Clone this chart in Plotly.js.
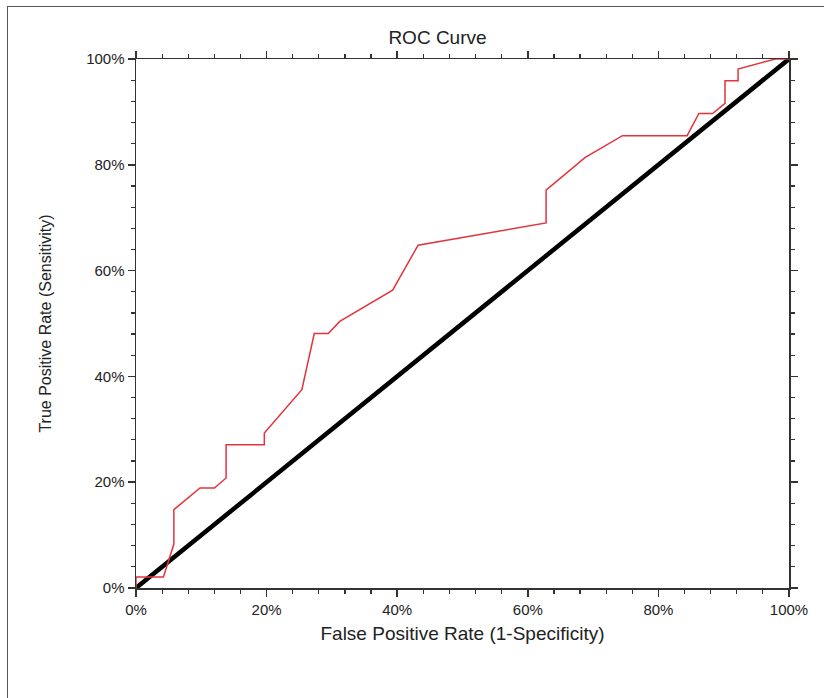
<!DOCTYPE html>
<html>
<head>
<meta charset="utf-8">
<script src="https://cdn.plot.ly/plotly-3.0.1.min.js"></script>
<style>
html,body{margin:0;padding:0;background:#fff;}
#wrap{position:relative;width:824px;height:698px;}
#chart{width:824px;height:698px;}
#frame{position:absolute;left:7px;top:6px;width:830px;height:700px;border-left:1.5px solid #555;border-top:1.5px solid #555;pointer-events:none;}
</style>
</head>
<body>
<div id="wrap"><div id="chart"></div><div id="frame"></div></div>
<script>
// False positive rate (%) and true positive rate (%) of the ROC curve
const fpr = [0, 0, 4.2, 5.8, 5.8, 9.8, 12.0, 13.8, 13.8, 19.65, 19.65, 25.4, 27.3, 29.45, 31.2, 39.3, 43.2, 62.8, 62.8, 68.8, 74.5, 84.4, 86.2, 88.3, 90.2, 90.2, 92.2, 92.2, 97.9, 100];
const tpr = [0, 2.1, 2.1, 8.3, 14.8, 18.9, 18.9, 20.8, 27.1, 27.1, 29.3, 37.5, 48.1, 48.1, 50.4, 56.3, 64.8, 69.0, 75.2, 81.4, 85.5, 85.5, 89.7, 89.7, 91.6, 95.9, 95.9, 98.1, 100, 100];
// Reference (chance) line
const refX = [0, 100];
const refY = [0, 100];
// Axis ticks
const tickVals = [0, 20, 40, 60, 80, 100];
const tickText = ['0%', '20%', '40%', '60%', '80%', '100%'];

const font = 'Liberation Sans, Arial, sans-serif';

const traces = [
  {x: refX, y: refY, mode: 'lines', line: {color: '#000', width: 4.5}, hoverinfo: 'skip', showlegend: false},
  {x: fpr, y: tpr, mode: 'lines', line: {color: '#e3343c', width: 1.5}, showlegend: false}
];

const axisCommon = {
  range: [0, 100],
  tickvals: tickVals,
  ticktext: tickText,
  ticks: 'outside',
  ticklen: 7,
  tickwidth: 1.5,
  tickcolor: '#333',
  showline: true,
  linecolor: '#333',
  linewidth: 1.5,
  mirror: 'allticks',
  showgrid: false,
  zeroline: false,
  tickfont: {family: font, size: 15, color: '#222'},
  minor: {dtick: 4, tick0: 0, ticks: 'outside', ticklen: 4, tickwidth: 1.2, tickcolor: '#333', showgrid: false}
};

const layout = {
  width: 824, height: 698,
  margin: {l: 136, r: 35, t: 59, b: 110},
  paper_bgcolor: '#fff', plot_bgcolor: '#fff',
  title: {text: 'ROC Curve', font: {family: font, size: 19, color: '#222'}, x: 0.4617, xref: 'paper', xanchor: 'center', y: 1 - 37/698, yref: 'container', yanchor: 'middle'},
  xaxis: Object.assign({}, axisCommon, {
    title: {text: 'False Positive Rate (1-Specificity)', font: {family: font, size: 19, color: '#222'}, standoff: 10}
  }),
  yaxis: Object.assign({}, axisCommon, {
    title: {text: 'True Positive Rate (Sensitivity)', font: {family: font, size: 16, color: '#222'}, standoff: 30}
  })
};

Plotly.newPlot('chart', traces, layout, {staticPlot: true});
</script>
</body>
</html>
